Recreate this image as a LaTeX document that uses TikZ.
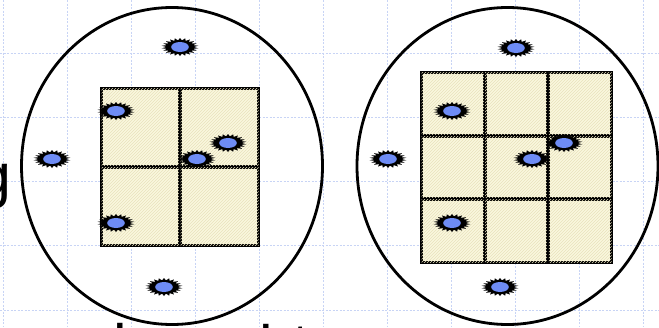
\documentclass[tikz,border=0pt]{standalone}
\usepackage{fontspec}
\setmainfont{Liberation Sans}
\usetikzlibrary{shapes.geometric,patterns}

\definecolor{gridblue}{RGB}{200,212,245}
\definecolor{cellcream}{RGB}{250,247,222}
\definecolor{hatchcream}{RGB}{232,226,188}
\definecolor{spotblue}{RGB}{110,140,245}

\begin{document}
\begin{tikzpicture}[
			x=1pt, y=-1pt,
			gridline/.style={gridblue, line width=0.9pt, dash pattern=on 2pt off 1.5pt},
			disc/.style={draw, ellipse, line width=2.8pt, minimum width=301pt, minimum height=317pt, inner sep=0pt},
			cell/.style={draw, fill=cellcream, line width=3pt, inner sep=0pt,
				postaction={pattern=north east lines, pattern color=hatchcream}},
			spot/.style={star, star points=22, star point ratio=1.35, fill=black, inner sep=0pt, minimum size=18pt, xscale=2.05,
				path picture={\fill[spotblue] (path picture bounding box.center) ellipse [x radius=4.3pt, y radius=5pt];}},
			glyph/.style={anchor=base west, inner sep=0pt, font=\fontsize{61}{66}\selectfont}
			]
			\useasboundingbox (0,0) rectangle (659,327);
			\clip (0,0) rectangle (659,327);
			\fill[white] (0,0) rectangle (659,327);
			% background grid
			\foreach \k in {0,...,10} \draw[gridline] ({3+64*\k},0) -- ({3+64*\k},327);
			\foreach \k in {0,...,4} \draw[gridline] (0,{53+64.25*\k}) -- (659,{53+64.25*\k});
			% cut-off text behind
			\node[glyph] (g) at (-23,196) {g};
			\node[glyph] (w1) at (113,367) {l};
			\node[glyph] (w2) at (259,368) {l};
			\node[glyph] (w3) at (292,366) {t};
			% the two discs
			\node[disc] (left) at (172,166) {};
			\node[disc] (right) at (507.5,166) {};
			% 2x2 cells
			\foreach \i in {1,2}
				\foreach \j in {1,2}
					\node[cell, minimum size=78pt] (l\i\j) at ({101+79*(\i-0.5)},{88+79*(\j-0.5)}) {};
			% 3x3 cells
			\foreach \i in {1,2,3}
				\foreach \j in {1,2,3}
					\node[cell, minimum size=62.7pt] (r\i\j) at ({421+63.7*(\i-0.5)},{72+63.7*(\j-0.5)}) {};
			% points, left
			\node[spot] (ltop) at (180,47) {};
			\node[spot] (lwest) at (52,159) {};
			\node[spot] (lbot) at (164,287) {};
			\node[spot] (la) at (116,111) {};
			\node[spot] (lb) at (228,143) {};
			\node[spot] (lc) at (197,159) {};
			\node[spot] (ld) at (116,223) {};
			% points, right
			\node[spot] (rtop) at (516,48) {};
			\node[spot] (rwest) at (388,159) {};
			\node[spot] (rbot) at (500,287) {};
			\node[spot] (ra) at (452,111) {};
			\node[spot] (rb) at (564,143) {};
			\node[spot] (rc) at (532,159) {};
			\node[spot] (rd) at (452,223) {};
		\end{tikzpicture}
\end{document}
